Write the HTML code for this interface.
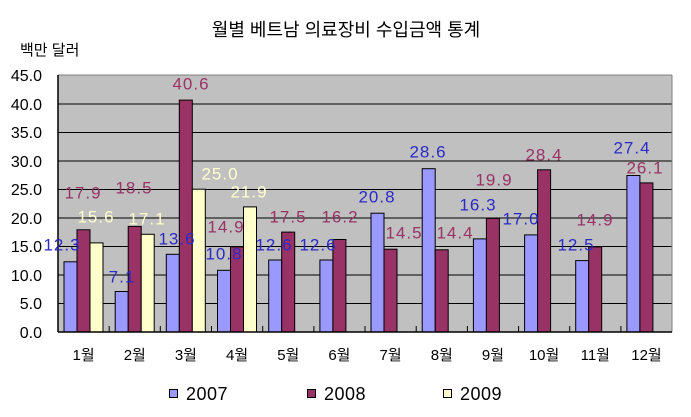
<!DOCTYPE html>
<html><head><meta charset="utf-8"><style>
body{margin:0;background:#fff;}
svg{display:block;font-family:"Liberation Sans","Noto Sans CJK KR",sans-serif;}
</style></head><body>
<svg width="691" height="417" viewBox="0 0 691 417" xmlns="http://www.w3.org/2000/svg">
<text x="346" y="36" font-size="18" text-anchor="middle" fill="#000">월별 베트남 의료장비 수입금액 통계</text>
<text x="20" y="55" font-size="15" fill="#000">백만 달러</text>
<rect x="58" y="75" width="614" height="257" fill="#c0c0c0"/>
<g stroke="#000" stroke-width="1">
<line x1="58" y1="104" x2="672" y2="104"/>
<line x1="58" y1="132.5" x2="672" y2="132.5"/>
<line x1="58" y1="161" x2="672" y2="161"/>
<line x1="58" y1="189.5" x2="672" y2="189.5"/>
<line x1="58" y1="218" x2="672" y2="218"/>
<line x1="58" y1="246.5" x2="672" y2="246.5"/>
<line x1="58" y1="275" x2="672" y2="275"/>
<line x1="58" y1="303.5" x2="672" y2="303.5"/>
</g>
<line x1="58" y1="75" x2="672" y2="75" stroke="#808080"/>
<line x1="672" y1="75" x2="672" y2="332" stroke="#808080"/>
<g font-size="16" text-anchor="end" fill="#000">
<text x="42" y="81">45.0</text><text x="42" y="110">40.0</text><text x="42" y="138">35.0</text>
<text x="42" y="167">30.0</text><text x="42" y="195">25.0</text><text x="42" y="224">20.0</text>
<text x="42" y="252">15.0</text><text x="42" y="281">10.0</text><text x="42" y="309">5.0</text>
<text x="42" y="338">0.0</text>
</g>
<g stroke="#000" stroke-width="1">
<rect x="64" y="261.8" width="13" height="70.2" fill="#9999ff"/>
<rect x="77" y="229.8" width="13" height="102.2" fill="#993366"/>
<rect x="90" y="242.9" width="13" height="89.1" fill="#ffffcc"/>
<rect x="115.2" y="291.5" width="13" height="40.5" fill="#9999ff"/>
<rect x="128.2" y="226.4" width="13" height="105.6" fill="#993366"/>
<rect x="141.2" y="234.3" width="13" height="97.7" fill="#ffffcc"/>
<rect x="166.3" y="254.3" width="13" height="77.7" fill="#9999ff"/>
<rect x="179.3" y="100.1" width="13" height="231.9" fill="#993366"/>
<rect x="192.3" y="189.2" width="13" height="142.8" fill="#ffffcc"/>
<rect x="217.5" y="270.3" width="13" height="61.7" fill="#9999ff"/>
<rect x="230.5" y="246.9" width="13" height="85.1" fill="#993366"/>
<rect x="243.5" y="206.9" width="13" height="125.1" fill="#ffffcc"/>
<rect x="268.7" y="260" width="13" height="72" fill="#9999ff"/>
<rect x="281.7" y="232.1" width="13" height="99.9" fill="#993366"/>
<rect x="319.9" y="260" width="13" height="72" fill="#9999ff"/>
<rect x="332.9" y="239.5" width="13" height="92.5" fill="#993366"/>
<rect x="371" y="213.2" width="13" height="118.8" fill="#9999ff"/>
<rect x="384" y="249.2" width="13" height="82.8" fill="#993366"/>
<rect x="422.2" y="168.7" width="13" height="163.3" fill="#9999ff"/>
<rect x="435.2" y="249.8" width="13" height="82.2" fill="#993366"/>
<rect x="473.4" y="238.9" width="13" height="93.1" fill="#9999ff"/>
<rect x="486.4" y="218.4" width="13" height="113.6" fill="#993366"/>
<rect x="524.6" y="234.9" width="13" height="97.1" fill="#9999ff"/>
<rect x="537.6" y="169.8" width="13" height="162.2" fill="#993366"/>
<rect x="575.7" y="260.6" width="13" height="71.4" fill="#9999ff"/>
<rect x="588.7" y="246.9" width="13" height="85.1" fill="#993366"/>
<rect x="626.9" y="175.5" width="13" height="156.5" fill="#9999ff"/>
<rect x="639.9" y="182.9" width="13" height="149.1" fill="#993366"/>
</g>
<g stroke="#000" stroke-width="1.5">
<line x1="58" y1="75" x2="58" y2="332"/>
<line x1="58" y1="332" x2="672" y2="332"/>
</g>
<g stroke="#000" stroke-width="1">
<line x1="109.2" y1="326" x2="109.2" y2="332"/><line x1="160.3" y1="326" x2="160.3" y2="332"/>
<line x1="211.5" y1="326" x2="211.5" y2="332"/><line x1="262.7" y1="326" x2="262.7" y2="332"/>
<line x1="313.9" y1="326" x2="313.9" y2="332"/><line x1="365" y1="326" x2="365" y2="332"/>
<line x1="416.2" y1="326" x2="416.2" y2="332"/><line x1="467.4" y1="326" x2="467.4" y2="332"/>
<line x1="518.6" y1="326" x2="518.6" y2="332"/><line x1="569.7" y1="326" x2="569.7" y2="332"/>
<line x1="620.9" y1="326" x2="620.9" y2="332"/>
</g>
<g font-size="17" letter-spacing="1" text-anchor="middle" dominant-baseline="central">
<g fill="#2a2ac8">
<text x="62" y="245">12.3</text><text x="122" y="277">7.1</text><text x="177" y="239">13.6</text>
<text x="224" y="254">10.8</text><text x="274" y="245">12.6</text><text x="318" y="245">12.6</text>
<text x="377" y="197">20.8</text><text x="428" y="152">28.6</text><text x="478" y="205">16.3</text>
<text x="521" y="219">17.0</text><text x="576" y="245">12.5</text><text x="632" y="148">27.4</text>
</g>
<g fill="#993366">
<text x="83" y="193">17.9</text><text x="134" y="188">18.5</text><text x="191" y="84">40.6</text>
<text x="226" y="227">14.9</text><text x="288" y="217">17.5</text><text x="340" y="217">16.2</text>
<text x="404" y="233">14.5</text><text x="455" y="233">14.4</text><text x="494" y="180">19.9</text>
<text x="544" y="155">28.4</text><text x="595" y="220">14.9</text><text x="645" y="168">26.1</text>
</g>
<g fill="#ffffcc">
<text x="96" y="217">15.6</text><text x="147" y="219">17.1</text><text x="220" y="174">25.0</text>
<text x="249" y="192">21.9</text>
</g>
</g>
<g font-size="15" text-anchor="middle" fill="#000">
<text x="83.6" y="360">1월</text><text x="134.8" y="360">2월</text><text x="185.9" y="360">3월</text>
<text x="237.1" y="360">4월</text><text x="288.3" y="360">5월</text><text x="339.4" y="360">6월</text>
<text x="390.6" y="360">7월</text><text x="441.8" y="360">8월</text><text x="493" y="360">9월</text>
<text x="544.1" y="360">10월</text><text x="595.3" y="360">11월</text><text x="646.5" y="360">12월</text>
</g>
<g stroke="#000" stroke-width="1">
<rect x="169.5" y="389.5" width="8" height="8" fill="#9999ff"/>
<rect x="307.5" y="389.5" width="8" height="8" fill="#993366"/>
<rect x="443.5" y="389.5" width="8" height="8" fill="#ffffcc"/>
</g>
<g font-size="18" fill="#000" letter-spacing="0.5">
<text x="186" y="400">2007</text><text x="324" y="400">2008</text><text x="460" y="400">2009</text>
</g>
</svg>
</body></html>
